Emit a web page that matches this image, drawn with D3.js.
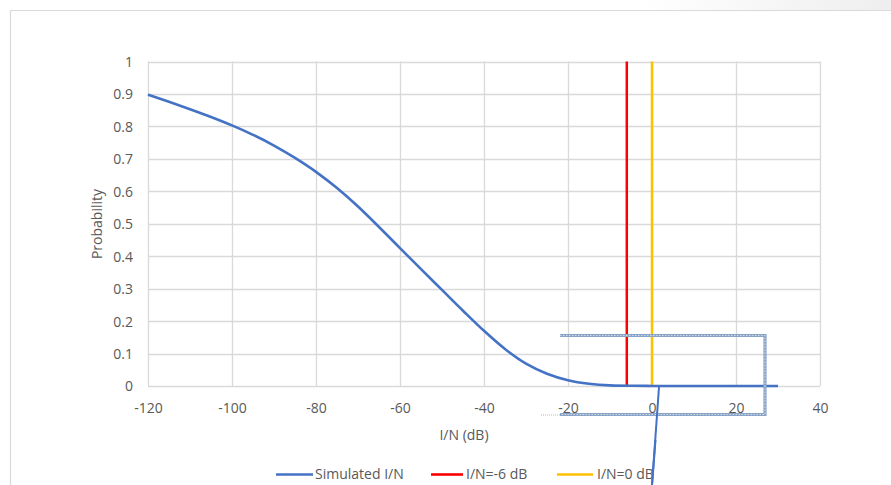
<!DOCTYPE html>
<html><head><meta charset="utf-8">
<script src="https://cdn.jsdelivr.net/npm/d3@7/dist/d3.min.js"></script>
<style>html,body{margin:0;padding:0;background:#fff;overflow:hidden}</style>
</head><body><svg id="c" width="891" height="485"></svg>
<script>
// ---- data ----
const inDb = [-120,-115,-110,-105,-100,-95,-90,-85,-80,-75,-70,-65,-60,-55,-50,-45,-40,-35,-30,-25,-20,-15,-10,-5,0,5,10,15,20,25,30];
const probability = [0.898,0.876,0.853,0.829,0.803,0.774,0.741,0.703,0.660,0.610,0.553,0.490,0.425,0.360,0.296,0.232,0.170,0.114,0.069,0.038,0.018,0.007,0.002,0.0006,0.0002,0,0,0,0,0,0];
const thresholdNames = ["I/N=-6 dB","I/N=0 dB"];
const thresholdValues = [-6,0];
const seriesNames = ["Simulated I/N","I/N=-6 dB","I/N=0 dB"];
const xTicks = [-120,-100,-80,-60,-40,-20,0,20,40];
const yTicks = [0,0.1,0.2,0.3,0.4,0.5,0.6,0.7,0.8,0.9,1];

const colors = {sim:"#4472c4", red:"#ff0000", yellow:"#ffc000", grid:"#d9d9d9", text:"#595959"};
const svg = d3.select("#c");
const font = "'Open Sans', sans-serif";

// chart frame with top-right shade
const defs = svg.append("defs");
const g1 = defs.append("linearGradient").attr("id","shade").attr("x1","0").attr("x2","1");
g1.append("stop").attr("offset","0").attr("stop-color","#fff");
g1.append("stop").attr("offset","1").attr("stop-color","#eeeeee");
svg.append("rect").attr("x",640).attr("y",0).attr("width",251).attr("height",10).attr("fill","url(#shade)");
svg.append("path").attr("d","M10.5,485 V10.5 H891").attr("fill","none").attr("stroke","#d9d9d9").attr("stroke-width",1.2);

const x = d3.scaleLinear().domain([-120,40]).range([148,820]);
const y = d3.scaleLinear().domain([0,1]).range([386,61.5]);

// grid
svg.append("g").selectAll("line").data(yTicks).join("line")
  .attr("x1",x(-120)).attr("x2",x(40)).attr("y1",d=>Math.round(y(d))+0.5).attr("y2",d=>Math.round(y(d))+0.5)
  .attr("stroke",colors.grid).attr("stroke-width",1.3);
svg.append("g").selectAll("line").data(xTicks).join("line")
  .attr("y1",y(0)).attr("y2",y(1)).attr("x1",d=>Math.round(x(d))+0.5).attr("x2",d=>Math.round(x(d))+0.5)
  .attr("stroke",colors.grid).attr("stroke-width",1.3);

// axes labels via d3 axes
const xAxis = svg.append("g").attr("transform",`translate(0,${y(0)})`)
  .call(d3.axisBottom(x).tickValues(xTicks).tickSize(0).tickPadding(0).tickFormat(d=>d));
xAxis.select(".domain").remove();
xAxis.selectAll("text").attr("dy",null).attr("y",27).attr("font-family",font).attr("font-size",14).attr("fill",colors.text);
const yAxis = svg.append("g").attr("transform",`translate(${x(-120)},0)`)
  .call(d3.axisLeft(y).tickValues(yTicks).tickSize(0).tickPadding(0).tickFormat(d=>d3.format("")(d)));
yAxis.select(".domain").remove();
yAxis.selectAll("text").attr("x",-15).attr("dy","0.35em").attr("font-family",font).attr("font-size",14).attr("fill",colors.text);

// titles
svg.append("text").attr("x",464).attr("y",440).attr("text-anchor","middle").attr("font-family",font).attr("font-size",14).attr("fill",colors.text).text("I/N (dB)");
svg.append("text").attr("transform","translate(102,224) rotate(-90)").attr("text-anchor","middle").attr("font-family",font).attr("font-size",14).attr("fill",colors.text).text("Probability");

// threshold lines
const thrColors = [colors.red, colors.yellow];
svg.append("g").selectAll("line").data(thresholdValues).join("line")
  .attr("x1",d=>x(d)).attr("x2",d=>x(d)).attr("y1",y(0)).attr("y2",y(1))
  .attr("stroke",(d,i)=>thrColors[i]).attr("stroke-width",2.5);

// curve
const line = d3.line().x((d,i)=>x(inDb[i])).y(d=>y(d)).curve(d3.curveMonotoneX);
svg.append("path").datum(probability).attr("d",line).attr("fill","none").attr("stroke",colors.sim).attr("stroke-width",2.6).attr("stroke-linejoin","round");

// annotation overlay (dotted selection box and pointer line)
const ann = svg.append("g").attr("fill","none");
ann.append("path").attr("d","M560,335.5 H765 V414.5 H560").attr("stroke","#8aa4c8").attr("stroke-width",3.2);
ann.append("path").attr("d","M560,335.5 H765 V414.5 H560").attr("stroke","#ffffff").attr("stroke-width",1).attr("stroke-dasharray","1.5,1.5").attr("opacity",0.6);
ann.append("path").attr("d","M541,415 H560").attr("stroke","#a9bcd6").attr("stroke-width",1).attr("stroke-dasharray","1,1");
ann.append("path").attr("d","M659,387 L652,485").attr("stroke",colors.sim).attr("stroke-width",2);

// legend
const lg = [{n:seriesNames[0],c:colors.sim,x1:276,x2:313,tx:315},
            {n:seriesNames[1],c:colors.red,x1:431,x2:463,tx:466},
            {n:seriesNames[2],c:colors.yellow,x1:557,x2:593,tx:597}];
const L = svg.append("g");
L.selectAll("line").data(lg).join("line").attr("x1",d=>d.x1).attr("x2",d=>d.x2).attr("y1",474.5).attr("y2",474.5).attr("stroke",d=>d.c).attr("stroke-width",2.6);
L.selectAll("text").data(lg).join("text").attr("x",d=>d.tx).attr("y",479).attr("font-family",font).attr("font-size",14).attr("fill",colors.text).text(d=>d.n);
// pointer line drawn over legend
svg.append("path").attr("d","M655.5,440 L652,485").attr("stroke",colors.sim).attr("stroke-width",2).attr("fill","none");
</script></body></html>
